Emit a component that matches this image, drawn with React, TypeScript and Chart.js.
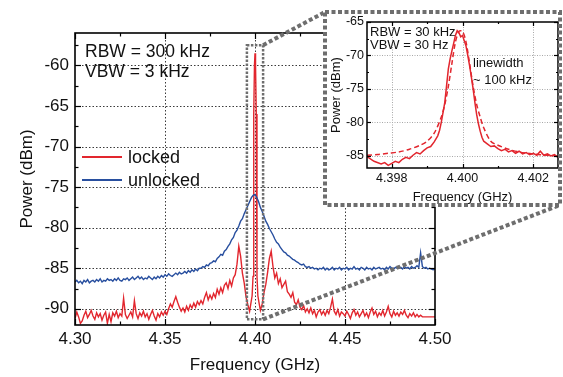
import React, { useEffect, useRef } from "react";
import { Chart, registerables } from "chart.js";

Chart.register(...registerables);

// ---------------- Main spectrum ----------------
const mainXMin = 4.3;
const mainXMax = 4.5;
const mainYMin = -92;
const mainYMax = -56;
const mainXTicks = [4.3, 4.35, 4.4, 4.45, 4.5];
const mainXMinorTicks = [4.325, 4.375, 4.425, 4.475];
const mainYTicks = [-90, -85, -80, -75, -70, -65, -60];
const mainYMinorTicks = [-57.5, -62.5, -67.5, -72.5, -77.5, -82.5, -87.5];

// sweep points every 1 MHz
const sweepStartGHz = 4.3;
const sweepStepGHz = 0.001;

// unlocked (blue), 4.300 ... 4.500 GHz
const unlockedPower = [
  -86.7, -86.5, -86.8, -86.6, -86.9, -86.5, -86.7, -86.4, -86.8, -86.6,
  -86.5, -86.7, -86.4, -86.6, -86.3, -86.7, -86.5, -86.6, -86.3, -86.5,
  -86.4, -86.6, -86.3, -86.5, -86.2, -86.5, -86.6, -86.3, -86.4, -86.2,
  -86.5, -86.3, -86.1, -86.4, -86.2, -86.0, -86.3, -86.1, -86.4, -86.2,
  -86.3, -86.0, -86.2, -86.4, -86.1, -86.3, -86.0, -86.2, -85.9, -86.1,
  -85.8, -86.0, -85.7, -85.9, -86.0, -85.8, -85.6, -85.8, -85.5, -85.7,
  -85.6, -85.4, -85.6, -85.3, -85.5, -85.2, -85.4, -85.1, -85.3, -85.0,
  -85.0, -84.8, -84.9, -84.6, -84.7, -84.4, -84.3, -84.1, -84.2, -83.8,
  -83.6, -83.3, -83.4, -82.9, -82.7, -82.3, -82.0, -81.5, -81.2, -80.6,
  -80.3, -79.8, -79.2, -78.9, -78.3, -77.8, -77.3, -76.8, -76.3, -76.0,
  -75.9, -76.3, -76.8, -77.5, -78.0, -78.6, -79.2, -79.6, -80.1, -80.5,
  -80.9, -81.4, -81.8, -82.0, -82.4, -82.7, -83.0, -83.1, -83.4, -83.5,
  -83.7, -83.9, -84.0, -84.2, -84.3, -84.5, -84.6, -84.5, -84.8, -84.9,
  -84.8, -85.0, -84.9, -85.1, -85.0, -85.2, -85.0, -85.1, -84.9, -85.2,
  -85.0, -85.2, -85.1, -84.9, -85.2, -85.0, -85.1, -84.9, -85.2, -85.0,
  -85.1, -84.9, -85.2, -85.0, -85.1, -84.8, -85.1, -85.0, -85.2, -84.9,
  -85.0, -85.2, -84.9, -85.1, -85.0, -85.2, -84.9, -85.1, -85.0, -84.9,
  -85.1, -85.0, -85.2, -84.9, -85.1, -84.8, -85.0, -85.1, -84.9, -85.0,
  -85.0, -84.9, -85.1, -84.8, -85.0, -84.9, -85.1, -84.8, -85.0, -84.9,
  -84.7, -84.9, -83.1, -84.8, -85.0, -84.9, -85.1, -85.0, -85.1, -85.2, -85.1,
];

// locked (red), 4.300 ... 4.395 GHz
const lockedPowerLow = [
  -91.2, -90.4, -91.0, -91.8, -91.5, -90.8, -90.3, -91.1, -90.7, -90.2,
  -90.9, -91.3, -90.5, -91.0, -90.6, -91.4, -90.8, -90.4, -91.8, -90.7,
  -91.6, -90.5, -90.9, -90.3, -91.1, -90.6, -90.9, -88.7, -90.7, -91.2,
  -90.8, -90.4, -91.0, -89.0, -90.6, -91.2, -90.5, -90.9, -90.3, -91.0,
  -90.6, -91.3, -90.7, -90.2, -90.9, -91.4, -90.6, -91.0, -90.4, -90.8,
  -90.3, -90.7, -90.0, -89.4, -89.8, -89.1, -88.5, -89.2, -89.8, -90.3,
  -89.9, -90.4, -89.7, -90.2, -89.5, -89.9, -89.3, -89.8, -89.1, -89.5,
  -89.0, -89.4, -88.6, -88.0, -88.9, -88.3, -88.8, -88.1, -88.6, -87.6,
  -88.2, -87.4, -88.0, -87.1, -86.8, -87.5, -86.5, -87.2, -86.2, -85.8,
  -84.5, -82.3, -83.5, -85.6, -86.8, -88.5,
];
// locked carrier region (finer points)
const lockedPeakFreq = [
  4.396, 4.397, 4.3978, 4.3984, 4.3989, 4.3993, 4.3997, 4.4, 4.4003, 4.4007,
  4.4011, 4.4016, 4.4022, 4.403, 4.404,
];
const lockedPeakPower = [
  -89.5, -90.3, -89.2, -88.4, -86.0, -66.0, -60.0, -58.5, -60.0, -66.0,
  -86.0, -88.4, -89.2, -90.2, -89.4,
];
// locked (red), 4.405 ... 4.500 GHz
const lockedHighStartGHz = 4.405;
const lockedPowerHigh = [
  -88.0, -87.0, -85.5, -83.8, -82.9,
  -84.8, -86.2, -85.6, -86.9, -86.3, -87.4, -87.0, -86.6, -87.9, -88.2,
  -88.6, -88.0, -89.2, -89.5, -88.9, -89.8, -90.1, -89.6, -90.4, -90.0,
  -90.5, -89.9, -90.6, -90.2, -91.0, -90.4, -90.1, -90.7, -90.3, -90.8,
  -90.2, -90.6, -89.8, -88.8, -90.3, -90.7, -90.1, -90.9, -90.4, -90.6,
  -90.9, -90.3, -90.7, -91.2, -90.5, -90.1, -90.8, -90.4, -91.0, -90.6,
  -90.2, -90.9, -90.5, -91.1, -90.4, -89.9, -90.7, -90.3, -91.0, -90.5,
  -90.8, -90.2, -90.9, -90.4, -89.7, -90.6, -91.0, -90.3, -90.8, -90.5,
  -90.9, -90.4, -90.7, -90.2, -90.8, -91.1, -90.6, -90.9, -90.5, -91.0,
  -90.7, -91.0, -90.8, -91.0, -91.0, -91.0, -91.0, -91.0, -91.0, -91.0, -91.0,
];

// zoom window marked on the main plot
const zoomBoxFreq = [4.3955, 4.4045];
const zoomBoxPower = [-91.3, -57.5];

// ---------------- Inset (zoom on carrier) ----------------
const insetXMin = 4.3973;
const insetXMax = 4.4027;
const insetYMin = -86.8;
const insetYMax = -65;
const insetXTicks = [4.398, 4.4, 4.402];
const insetXMinorTicks = [4.399, 4.401];
const insetYTicks = [-85, -80, -75, -70, -65];
const insetYMinorTicks = [-82.5, -77.5, -72.5, -67.5];

const insetFreq = [
  4.3973, 4.3975, 4.3977, 4.3978, 4.3979, 4.398, 4.3981, 4.3982, 4.3983, 4.3984,
  4.3985, 4.3986, 4.3987, 4.3988, 4.3989, 4.399, 4.3991, 4.3992, 4.3993, 4.39935,
  4.3994, 4.39945, 4.3995, 4.39955, 4.3996, 4.39965, 4.3997, 4.39975, 4.3998, 4.39985,
  4.3999, 4.39995, 4.4, 4.40005, 4.4001, 4.40015, 4.4002, 4.40025, 4.4003, 4.40035,
  4.4004, 4.40045, 4.4005, 4.40055, 4.4006, 4.4007, 4.4008, 4.4009, 4.401, 4.4011,
  4.4012, 4.4013, 4.4014, 4.4015, 4.4016, 4.4017, 4.4018, 4.4019, 4.402, 4.4021,
  4.4022, 4.4023, 4.4024, 4.4025, 4.4026, 4.4027,
];
const insetMeasured = [
  -85.1, -85.8, -86.2, -86.0, -86.4, -86.1, -85.8, -86.0, -85.5, -85.2,
  -85.4, -84.9, -84.5, -84.7, -84.2, -83.8, -83.6, -82.9, -82.0, -81.2,
  -80.0, -78.5, -77.0, -74.5, -72.0, -70.5, -69.3, -68.2, -67.0, -66.3,
  -66.6, -67.2, -67.0, -67.8, -68.6, -70.0, -71.5, -73.2, -75.0, -77.0,
  -78.8, -80.2, -81.3, -82.2, -82.8, -83.2, -83.6, -83.5, -83.9, -84.2,
  -84.0, -84.4, -84.2, -84.6, -84.3, -84.7, -84.5, -84.8, -84.6, -84.9,
  -84.3, -84.9, -84.7, -85.0, -84.8, -85.2,
];
const fitFreq = [
  4.3973, 4.3976, 4.3979, 4.3982, 4.3985, 4.3988, 4.399, 4.3992, 4.3994, 4.3995,
  4.3996, 4.3997, 4.3998, 4.3999, 4.4, 4.4001, 4.4002, 4.4003, 4.4004, 4.4005,
  4.4006, 4.4008, 4.401, 4.4013, 4.4016, 4.402, 4.4024, 4.4027,
];
const fitPower = [
  -84.9, -84.8, -84.6, -84.4, -84.0, -83.4, -82.8, -81.6, -79.2, -77.3,
  -74.6, -71.2, -68.0, -66.4, -66.4, -68.0, -71.2, -74.6, -77.3, -79.2,
  -80.8, -82.8, -83.4, -84.0, -84.4, -84.7, -84.9, -85.0,
];

// ---------------- styling ----------------
const FONT = "'Liberation Sans', Arial, Helvetica, sans-serif";
const RED = "#e2262e";
const BLUE = "#284f9f";
const DOT_GRAY = "#6e6e6e";

const INSET = { left: 323, top: 10, width: 239, height: 197 };

function line(ctx: any, x1: number, y1: number, x2: number, y2: number) {
  ctx.beginPath();
  ctx.moveTo(x1, y1);
  ctx.lineTo(x2, y2);
  ctx.stroke();
}

function drawGrid(chart: any, xs: number[], ys: number[], color: string, dash: number[]) {
  const { ctx, chartArea: a, scales } = chart;
  ctx.save();
  ctx.strokeStyle = color;
  ctx.lineWidth = 1;
  ctx.setLineDash(dash);
  for (const v of xs) {
    const px = Math.round(scales.x.getPixelForValue(v)) + 0.5;
    if (px <= a.left + 1 || px >= a.right - 1) continue;
    line(ctx, px, a.top, px, a.bottom);
  }
  for (const v of ys) {
    const py = Math.round(scales.y.getPixelForValue(v)) + 0.5;
    if (py <= a.top + 1 || py >= a.bottom - 1) continue;
    line(ctx, a.left, py, a.right, py);
  }
  ctx.restore();
}

function drawFrame(
  chart: any,
  xMaj: number[],
  xMin: number[],
  yMaj: number[],
  yMin: number[],
  majLen: number,
  minLen: number,
  lw: number
) {
  const { ctx, chartArea: a, scales } = chart;
  ctx.save();
  ctx.setLineDash([]);
  ctx.strokeStyle = "#000";
  ctx.lineWidth = 1.2;
  const tx = (v: number, len: number) => {
    const px = Math.round(scales.x.getPixelForValue(v)) + 0.5;
    line(ctx, px, a.bottom, px, a.bottom - len);
    line(ctx, px, a.top, px, a.top + len);
  };
  const ty = (v: number, len: number) => {
    const py = Math.round(scales.y.getPixelForValue(v)) + 0.5;
    line(ctx, a.left, py, a.left + len, py);
    line(ctx, a.right, py, a.right - len, py);
  };
  xMaj.forEach((v) => tx(v, majLen));
  xMin.forEach((v) => tx(v, minLen));
  yMaj.forEach((v) => ty(v, majLen));
  yMin.forEach((v) => ty(v, minLen));
  ctx.lineWidth = lw;
  ctx.strokeRect(a.left, a.top, a.right - a.left, a.bottom - a.top);
  ctx.restore();
}

const mainDecor = {
  id: "mainDecor",
  beforeDatasetsDraw(chart: any) {
    drawGrid(chart, mainXTicks, mainYTicks, "#3a3a3a", [1.5, 2]);
  },
  afterDatasetsDraw(chart: any) {
    const { ctx, chartArea: a, scales } = chart;
    drawFrame(chart, mainXTicks, mainXMinorTicks, mainYTicks, mainYMinorTicks, 6, 3.5, 1.6);

    // zoom window box
    const bx0 = scales.x.getPixelForValue(zoomBoxFreq[0]);
    const bx1 = scales.x.getPixelForValue(zoomBoxFreq[1]);
    const by0 = scales.y.getPixelForValue(zoomBoxPower[1]);
    const by1 = scales.y.getPixelForValue(zoomBoxPower[0]);
    ctx.save();
    ctx.strokeStyle = DOT_GRAY;
    ctx.lineWidth = 2.5;
    ctx.setLineDash([2.5, 1.5]);
    ctx.strokeRect(bx0, by0, bx1 - bx0, by1 - by0);
    // connectors to the inset
    ctx.lineWidth = 4;
    ctx.setLineDash([4, 2.5]);
    line(ctx, bx1, by0, INSET.left + 2, INSET.top + 2);
    line(ctx, bx1, by1, INSET.left + INSET.width - 2, INSET.top + INSET.height - 2);
    ctx.restore();

    // legend
    ctx.save();
    ctx.font = `18px ${FONT}`;
    ctx.textBaseline = "middle";
    ctx.textAlign = "left";
    chart.data.datasets.forEach((ds: any, i: number) => {
      const ly = a.top + 124 + i * 23;
      ctx.strokeStyle = ds.borderColor;
      ctx.lineWidth = 2;
      line(ctx, a.left + 7, ly, a.left + 47, ly);
      ctx.fillStyle = "#111";
      ctx.fillText(ds.label, a.left + 53, ly + 1);
    });
    // annotation
    ctx.font = `17.5px ${FONT}`;
    ctx.fillText("RBW = 300 kHz", a.left + 10, a.top + 19);
    ctx.fillText("VBW = 3 kHz", a.left + 10, a.top + 39);
    ctx.restore();
  },
};

const insetDecor = {
  id: "insetDecor",
  beforeDraw(chart: any) {
    const { ctx, width, height } = chart;
    ctx.save();
    ctx.fillStyle = "#fff";
    ctx.fillRect(0, 0, width, height);
    ctx.restore();
  },
  beforeDatasetsDraw(chart: any) {
    drawGrid(chart, insetXTicks, insetYTicks, "#a8a8a8", [1, 1.5]);
  },
  afterDatasetsDraw(chart: any) {
    const { ctx, chartArea: a } = chart;
    drawFrame(chart, insetXTicks, insetXMinorTicks, insetYTicks, insetYMinorTicks, 4, 2, 1.5);
    ctx.save();
    ctx.fillStyle = "#111";
    ctx.textBaseline = "middle";
    ctx.textAlign = "left";
    ctx.font = `13px ${FONT}`;
    ctx.fillText("RBW = 30 kHz", a.left + 3, a.top + 10);
    ctx.fillText("VBW = 30 Hz", a.left + 3, a.top + 23);
    ctx.fillText("linewidth", a.left + 106, a.top + 41);
    ctx.fillText("~ 100 kHz", a.left + 106, a.top + 58);
    ctx.restore();
  },
  afterDraw(chart: any) {
    const { ctx, width, height } = chart;
    ctx.save();
    ctx.strokeStyle = DOT_GRAY;
    ctx.lineWidth = 4;
    ctx.setLineDash([4, 2.5]);
    ctx.strokeRect(2, 2, width - 4, height - 4);
    ctx.restore();
  },
};

function fixedTicks(values: number[]) {
  return (scale: any) => {
    scale.ticks = values.map((v) => ({ value: v }));
  };
}

export default function App() {
  const mainRef = useRef<HTMLCanvasElement>(null);
  const insetRef = useRef<HTMLCanvasElement>(null);

  useEffect(() => {
    const unlockedData = unlockedPower.map((p, i) => ({
      x: sweepStartGHz + i * sweepStepGHz,
      y: p,
    }));
    const lockedData = [
      ...lockedPowerLow.map((p, i) => ({ x: sweepStartGHz + i * sweepStepGHz, y: p })),
      ...lockedPeakFreq.map((f, i) => ({ x: f, y: lockedPeakPower[i] })),
      ...lockedPowerHigh.map((p, i) => ({ x: lockedHighStartGHz + i * sweepStepGHz, y: p })),
    ];

    const main = new Chart(mainRef.current as HTMLCanvasElement, {
      type: "line",
      data: {
        datasets: [
          {
            label: "locked",
            data: lockedData,
            borderColor: RED,
            borderWidth: 1.4,
            pointRadius: 0,
            tension: 0,
            order: 1,
          },
          {
            label: "unlocked",
            data: unlockedData,
            borderColor: BLUE,
            borderWidth: 1.4,
            pointRadius: 0,
            tension: 0,
            order: 0,
          },
        ],
      },
      options: {
        responsive: false,
        animation: false,
        devicePixelRatio: 1,
        events: [],
        layout: { padding: { top: 33, right: 128, left: 0, bottom: 0 } },
        plugins: { legend: { display: false }, tooltip: { enabled: false } },
        scales: {
          x: {
            type: "linear",
            min: mainXMin,
            max: mainXMax,
            grid: { display: false, drawTicks: false },
            border: { display: false },
            afterBuildTicks: fixedTicks(mainXTicks),
            afterFit: (s: any) => {
              s.height = 52;
            },
            ticks: {
              callback: (v: any) => Number(v).toFixed(2),
              font: { family: FONT, size: 17 },
              color: "#111",
              padding: 4,
              maxRotation: 0,
              autoSkip: false,
            },
            title: {
              display: true,
              text: "Frequency (GHz)",
              font: { family: FONT, size: 17 },
              color: "#111",
              padding: { top: 0, bottom: 1 },
            },
          },
          y: {
            type: "linear",
            min: mainYMin,
            max: mainYMax,
            grid: { display: false, drawTicks: false },
            border: { display: false },
            afterBuildTicks: fixedTicks(mainYTicks),
            afterFit: (s: any) => {
              s.width = 75;
            },
            ticks: {
              font: { family: FONT, size: 17 },
              color: "#111",
              padding: 6,
              autoSkip: false,
            },
            title: {
              display: true,
              text: "Power (dBm)",
              font: { family: FONT, size: 17 },
              color: "#111",
              padding: { top: 17, bottom: 0 },
            },
          },
        },
      } as any,
      plugins: [mainDecor],
    });

    const insetMeasuredData = insetFreq.map((f, i) => ({ x: f, y: insetMeasured[i] }));
    const insetFitData = fitFreq.map((f, i) => ({ x: f, y: fitPower[i] }));

    const inset = new Chart(insetRef.current as HTMLCanvasElement, {
      type: "line",
      data: {
        datasets: [
          {
            label: "measured",
            data: insetMeasuredData,
            borderColor: RED,
            borderWidth: 1.5,
            pointRadius: 0,
            tension: 0,
          },
          {
            label: "Lorentzian fit",
            data: insetFitData,
            borderColor: RED,
            borderWidth: 1.5,
            borderDash: [5, 3],
            pointRadius: 0,
            tension: 0.3,
          },
        ],
      },
      options: {
        responsive: false,
        animation: false,
        devicePixelRatio: 1,
        events: [],
        layout: { padding: { top: 12, right: 4, left: 0, bottom: 0 } },
        plugins: { legend: { display: false }, tooltip: { enabled: false } },
        scales: {
          x: {
            type: "linear",
            min: insetXMin,
            max: insetXMax,
            grid: { display: false, drawTicks: false },
            border: { display: false },
            afterBuildTicks: fixedTicks(insetXTicks),
            afterFit: (s: any) => {
              s.height = 39;
            },
            ticks: {
              callback: (v: any) => Number(v).toFixed(3),
              font: { family: FONT, size: 12.5 },
              color: "#111",
              padding: 3,
              maxRotation: 0,
              autoSkip: false,
            },
            title: {
              display: true,
              text: "Frequency (GHz)",
              font: { family: FONT, size: 13 },
              color: "#111",
              padding: { top: 0, bottom: 2 },
            },
          },
          y: {
            type: "linear",
            min: insetYMin,
            max: insetYMax,
            grid: { display: false, drawTicks: false },
            border: { display: false },
            afterBuildTicks: fixedTicks(insetYTicks),
            afterFit: (s: any) => {
              s.width = 44;
            },
            ticks: {
              font: { family: FONT, size: 12.5 },
              color: "#111",
              padding: 3,
              autoSkip: false,
            },
            title: {
              display: true,
              text: "Power (dBm)",
              font: { family: FONT, size: 13 },
              color: "#111",
              padding: { top: 6, bottom: 0 },
            },
          },
        },
      } as any,
      plugins: [insetDecor],
    });

    return () => {
      main.destroy();
      inset.destroy();
    };
  }, []);

  return (
    <div
      style={{
        position: "fixed",
        left: 0,
        top: 0,
        width: 563,
        height: 377,
        background: "#fff",
        overflow: "hidden",
      }}
    >
      <canvas
        ref={mainRef}
        width={563}
        height={377}
        style={{ position: "absolute", left: 0, top: 0, width: 563, height: 377 }}
      />
      <canvas
        ref={insetRef}
        width={INSET.width}
        height={INSET.height}
        style={{
          position: "absolute",
          left: INSET.left,
          top: INSET.top,
          width: INSET.width,
          height: INSET.height,
        }}
      />
    </div>
  );
}
